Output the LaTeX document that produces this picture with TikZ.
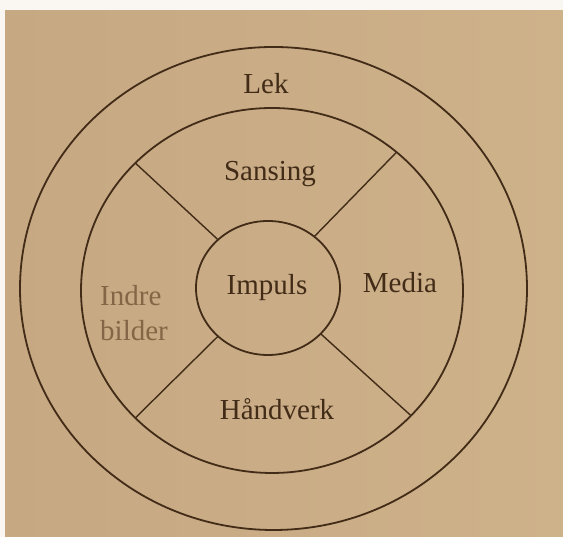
\documentclass[tikz,border=0pt]{standalone}
\usepackage{fontspec}
\setmainfont{Liberation Serif}
\usetikzlibrary{shapes.geometric}
\definecolor{paper}{RGB}{206,178,138}
\definecolor{paperdark}{RGB}{198,168,130}
\definecolor{ink}{RGB}{66,44,24}
\definecolor{fadeink}{RGB}{132,102,70}
\begin{document}
\begin{tikzpicture}[x=1pt,y=1pt,
  ring/.style={ellipse, draw=ink, line width=1.8pt, inner sep=0pt, outer sep=0pt},
  spoke/.style={draw=ink, line width=1.4pt},
  lbl/.style={text=ink, font=\fontsize{29}{34}\selectfont, anchor=base, inner sep=0pt}]
\useasboundingbox (0,0) rectangle (563,537);
\shade[left color=paperdark, right color=paper] (0,0) rectangle (563,537);
\fill[white!90!paper] (0,527) rectangle (563,537);
\fill[white!90!paper] (0,0) rectangle (5,537);
% rings
\node[ring, minimum width=507pt, minimum height=483pt] (lek) at (273.5,248.5) {};
\node[ring, minimum width=382pt, minimum height=365pt] (mid) at (272,246.5) {};
\node[ring, minimum width=144pt, minimum height=134pt] (imp) at (268,249) {};
% spokes
\draw[spoke] (imp.136) -- (mid.137);
\draw[spoke] (imp.48) -- (mid.48);
\draw[spoke] (imp.224) -- (mid.223);
\draw[spoke] (imp.319) -- (mid.318);
% labels
\node[lbl] (tlek) at (266,443) {Lek};
\node[lbl] (tsans) at (270,356) {Sansing};
\node[lbl] (timp) at (267,242) {Impuls};
\node[lbl] (tmed) at (400,244) {Media};
\node[lbl, anchor=base west, text=fadeink] (tind) at (100,231) {Indre};
\node[lbl, anchor=base west, text=fadeink] (tbil) at (100,196) {bilder};
\node[lbl] (thand) at (277,117) {Håndverk};
\end{tikzpicture}
\end{document}
